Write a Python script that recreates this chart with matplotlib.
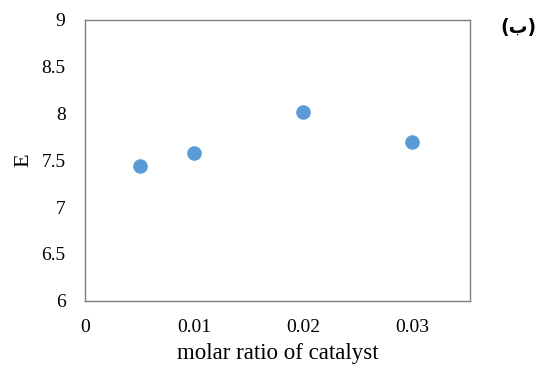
import matplotlib
matplotlib.use('Agg')
import matplotlib.pyplot as plt

# data
molar_ratio = [0.005, 0.01, 0.02, 0.03]
e_values = [7.44, 7.58, 8.02, 7.69]
x_ticks = [0, 0.01, 0.02, 0.03]
x_labels = ['0', '0.01', '0.02', '0.03']
y_ticks = [6, 6.5, 7, 7.5, 8, 8.5, 9]
y_labels = ['6', '6.5', '7', '7.5', '8', '8.5', '9']

plt.rcParams['font.family'] = ['Liberation Serif', 'DejaVu Serif']

fig = plt.figure(figsize=(5.37, 3.65), dpi=100)
ax = fig.add_axes([85 / 537, 1 - 300.5 / 365, 385 / 537, 280.5 / 365])

ax.scatter(molar_ratio, e_values, s=110, color='#5B9BD5', zorder=3, linewidths=0)

ax.set_xlim(0, 0.0353)
ax.set_ylim(6, 9)
ax.set_xticks(x_ticks)
ax.set_xticklabels(x_labels)
ax.set_yticks(y_ticks)
ax.set_yticklabels(y_labels)
ax.tick_params(length=0, labelsize=14)
ax.tick_params(axis='x', pad=13)
ax.tick_params(axis='y', pad=14)

for side in ['top', 'right', 'left', 'bottom']:
    ax.spines[side].set_color('#7f7f7f')
    ax.spines[side].set_linewidth(1.0)

ax.set_xlabel('molar ratio of catalyst', fontsize=16.5, labelpad=5)
ax.set_ylabel('E', fontsize=16, labelpad=6)

# panel marker
fig.text(518 / 537, 1 - 28 / 365, '(ب)', fontsize=13.5, fontweight='bold',
         family=['DejaVu Sans'], ha='center', va='center')

plt.savefig('out.png', dpi=100)
